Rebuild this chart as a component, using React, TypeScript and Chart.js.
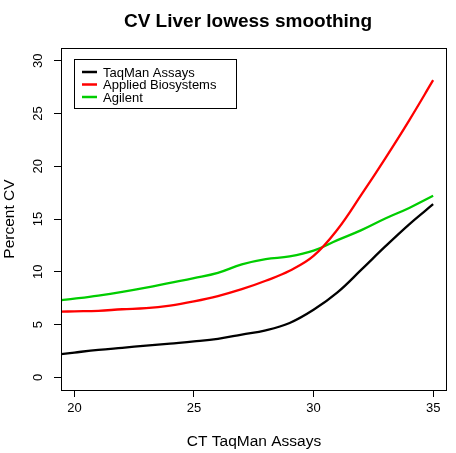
import React, { useEffect, useRef } from 'react';
import { Chart, registerables } from 'chart.js';

Chart.register(...registerables);

// lowess curves (x = CT TaqMan Assays)
const ctValues = [19.44, 20, 21, 22, 23, 24, 25, 26, 27, 28, 29, 30, 31, 32, 33, 34, 35];
const taqmanCV = [2.2, 2.35, 2.6, 2.8, 3.0, 3.2, 3.4, 3.65, 4.05, 4.45, 5.15, 6.4, 8.05, 10.2, 12.4, 14.5, 16.4];
const appliedCV = [6.22, 6.25, 6.3, 6.45, 6.55, 6.8, 7.2, 7.7, 8.35, 9.15, 10.1, 11.5, 14.0, 17.3, 20.75, 24.35, 28.15];
const agilentCV = [7.3, 7.45, 7.75, 8.1, 8.5, 8.95, 9.4, 9.9, 10.7, 11.2, 11.45, 12.0, 13.0, 13.95, 15.05, 16.05, 17.2];

const seriesNames = ['TaqMan Assays', 'Applied Biosystems', 'Agilent'];
const seriesColors = ['#000000', '#ff0000', '#00cd00'];

const FONT = '"Liberation Sans", Arial, sans-serif';

const toPoints = (ys: number[]) => ctValues.map((x, i) => ({ x, y: ys[i] }));

// R style box, title and legend
const rDecor = {
  id: 'rDecor',
  afterDatasetsDraw(chart: any) {
    const { ctx, chartArea } = chart;
    ctx.save();
    ctx.strokeStyle = '#000';
    ctx.lineWidth = 1;
    ctx.strokeRect(chartArea.left + 0.5, chartArea.top + 0.5, chartArea.right - chartArea.left - 1, chartArea.bottom - chartArea.top);
    ctx.restore();
  },
  afterDraw(chart: any) {
    const { ctx, chartArea } = chart;
    ctx.save();
    // title
    ctx.fillStyle = '#000';
    ctx.font = `bold 19px ${FONT}`;
    ctx.textAlign = 'center';
    ctx.textBaseline = 'alphabetic';
    ctx.fillText('CV Liver lowess smoothing', (chartArea.left + chartArea.right) / 2 - 6, 27);

    // legend
    const bx = chartArea.left + 13;
    const by = chartArea.top + 11;
    ctx.fillStyle = '#fff';
    ctx.fillRect(bx, by, 162, 49);
    ctx.strokeStyle = '#000';
    ctx.lineWidth = 1;
    ctx.strokeRect(bx + 0.5, by + 0.5, 162, 49);
    ctx.font = `13px ${FONT}`;
    ctx.textAlign = 'left';
    ctx.textBaseline = 'middle';
    chart.data.datasets.forEach((ds: any, i: number) => {
      const y = by + 13 + i * 12.5;
      ctx.strokeStyle = ds.borderColor;
      ctx.lineWidth = 2.5;
      ctx.beginPath();
      ctx.moveTo(bx + 8, y);
      ctx.lineTo(bx + 23, y);
      ctx.stroke();
      ctx.fillStyle = '#000';
      ctx.fillText(ds.label, bx + 29, y + 1);
    });
    ctx.restore();
  },
};

const App: React.FC = () => {
  const canvasRef = useRef<HTMLCanvasElement>(null);

  useEffect(() => {
    if (!canvasRef.current) return;
    const chart = new Chart(canvasRef.current, {
      type: 'line',
      data: {
        datasets: [taqmanCV, appliedCV, agilentCV].map((ys, i) => ({
          label: seriesNames[i],
          data: toPoints(ys),
          borderColor: seriesColors[i],
          backgroundColor: seriesColors[i],
          borderWidth: 2.3,
          pointRadius: 0,
          tension: 0.4,
          fill: false,
        })),
      },
      options: {
        animation: false,
        responsive: false,
        layout: { padding: { left: 0, right: 9, top: 48, bottom: 0 } },
        plugins: {
          legend: { display: false },
          title: { display: false },
          tooltip: { enabled: false },
        },
        scales: {
          x: {
            type: 'linear',
            min: 19.44,
            max: 35.58,
            border: { display: false },
            grid: { drawOnChartArea: false, drawTicks: true, tickLength: 7, color: '#000', tickColor: '#000' },
            ticks: {
              stepSize: 5,
              includeBounds: false,
              autoSkip: false,
              maxRotation: 0,
              color: '#000',
              padding: 4,
              font: { family: FONT, size: 13 },
            },
            title: {
              display: true,
              text: 'CT TaqMan Assays',
              color: '#000',
              font: { family: FONT, size: 15.5 },
              padding: { top: 0, bottom: 2 },
            },
            afterFit: (scale: any) => {
              scale.height = 63;
            },
          },
          y: {
            type: 'linear',
            min: -1.2,
            max: 31.2,
            border: { display: false },
            grid: { drawOnChartArea: false, drawTicks: true, tickLength: 7, color: '#000', tickColor: '#000' },
            ticks: {
              stepSize: 5,
              includeBounds: false,
              autoSkip: false,
              minRotation: 90,
              maxRotation: 90,
              crossAlign: 'center',
              color: '#000',
              padding: 8,
              font: { family: FONT, size: 13 },
            },
            title: {
              display: true,
              text: 'Percent CV',
              color: '#000',
              font: { family: FONT, size: 15.5 },
              padding: { top: 0, bottom: 0 },
            },
            afterFit: (scale: any) => {
              scale.width = 61;
            },
          },
        },
      },
      plugins: [rDecor],
    });
    return () => chart.destroy();
  }, []);

  return (
    <div style={{ position: 'fixed', left: 0, top: 0, width: 456, height: 453, background: '#fff' }}>
      <canvas ref={canvasRef} width={456} height={453} />
    </div>
  );
};

export default App;
